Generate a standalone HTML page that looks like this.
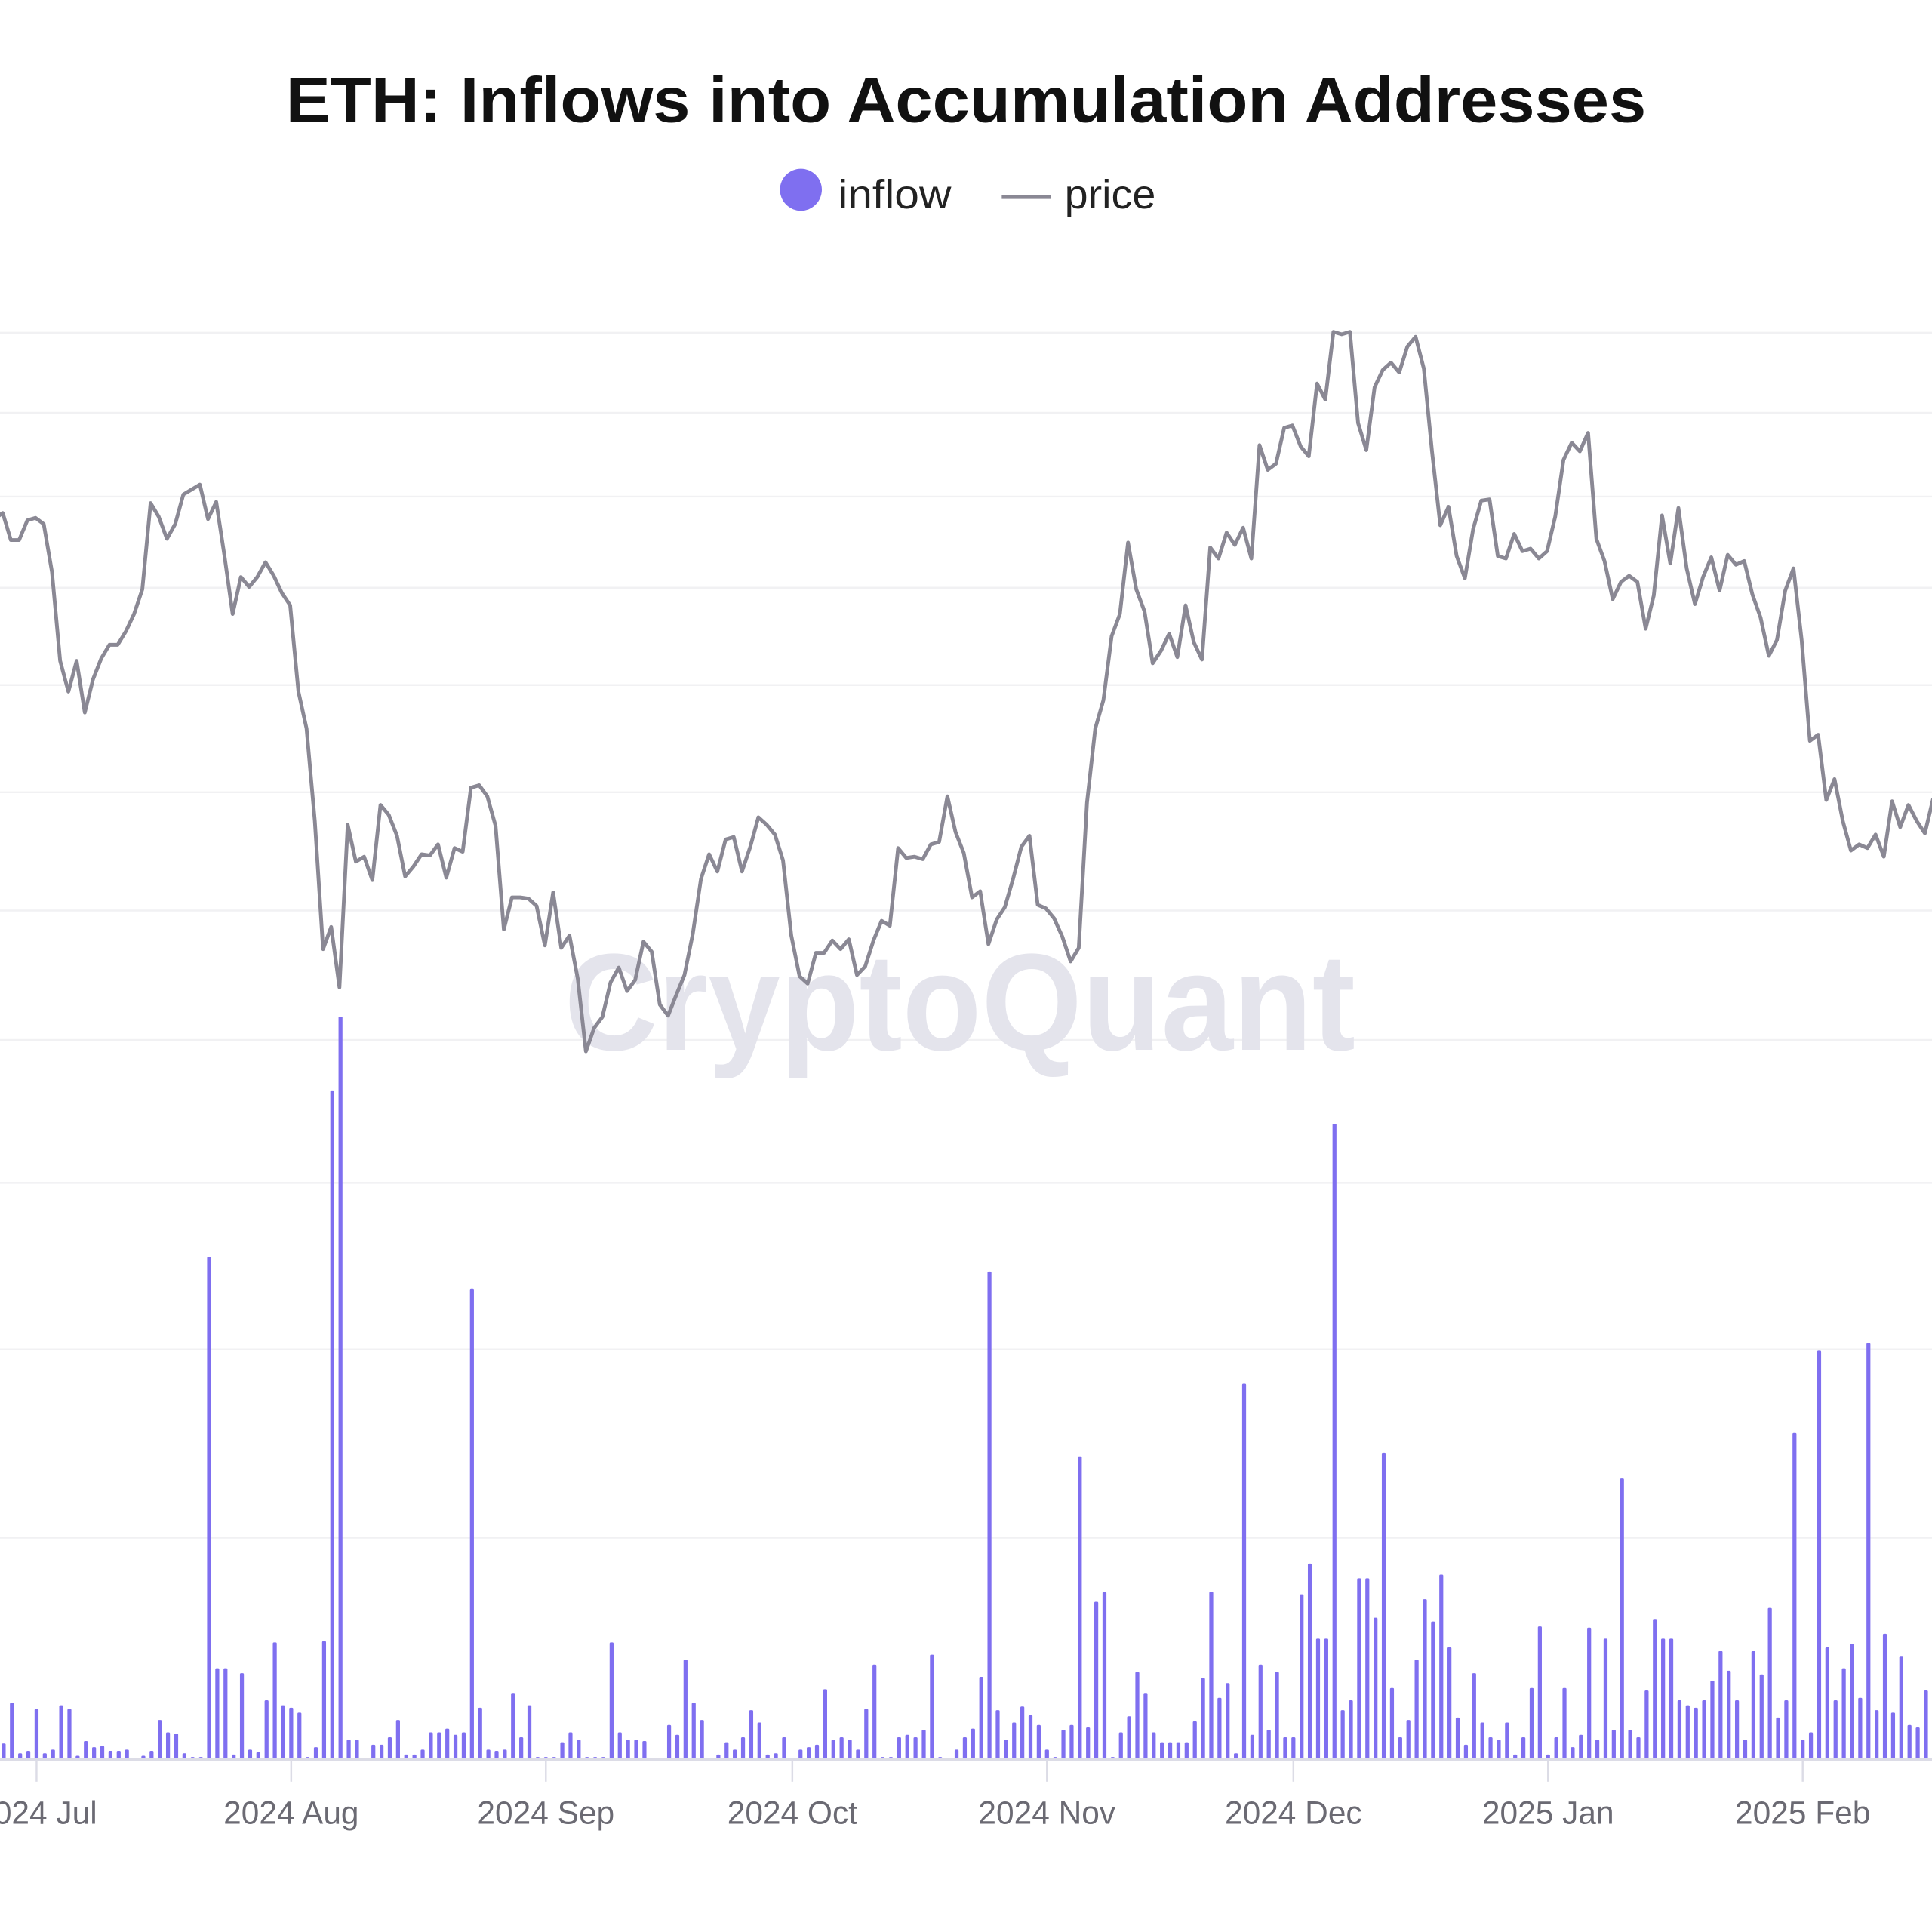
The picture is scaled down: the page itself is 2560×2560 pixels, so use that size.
<!DOCTYPE html>
<html><head><meta charset="utf-8"><style>
html,body{margin:0;padding:0;background:#fff;}
svg{display:block;}
text{font-family:"Liberation Sans","DejaVu Sans",sans-serif;}
</style></head><body>
<svg id="chart" width="2560" height="2560" viewBox="0 0 1568 1568" xmlns="http://www.w3.org/2000/svg">
<rect width="1568" height="1568" fill="#fff"/>
<text x="784" y="99" text-anchor="middle" font-size="52" font-weight="bold" fill="#111" textLength="1104" lengthAdjust="spacingAndGlyphs">ETH: Inflows into Accumulation Addresses</text>
<g>
<circle cx="650" cy="154" r="17" fill="#7f6ff0"/>
<text x="680" y="169" font-size="33" fill="#222" textLength="92" lengthAdjust="spacingAndGlyphs">inflow</text>
<line x1="813" y1="160" x2="853" y2="160" stroke="#8a8894" stroke-width="3"/>
<text x="864" y="169" font-size="33" fill="#222" textLength="74" lengthAdjust="spacingAndGlyphs">price</text>
</g>
<g id="grid"></g>
<text x="779" y="852" text-anchor="middle" font-size="112" font-weight="bold" fill="#e4e4ec" textLength="642" lengthAdjust="spacingAndGlyphs">CryptoQuant</text>
<g id="bars"></g>
<path id="priceLine" fill="none" stroke="#8a8894" stroke-width="3" stroke-linejoin="round"/>
<line x1="0" y1="1428" x2="1568" y2="1428" stroke="#dcdce6" stroke-width="2"/>
<g id="xaxis"></g>
</svg>
<script>
// day index 0 = 2024-06-27
const tickLabels = ["2024 Jul","2024 Aug","2024 Sep","2024 Oct","2024 Nov","2024 Dec","2025 Jan","2025 Feb"];
const tickDays = [4,35,66,96,127,157,188,219];
const gridValues = [270,335,403,477,556,643,739,844,960,1095,1248];
const price = [3540,3555,3489,3489,3537,3543,3528,3411,3195,3120,3195,3069,3150,3201,3234,3234,3267,3309,3369,3579,3546,3492,3528,3600,3612,3624,3540,3582,3450,3309,3399,3375,3399,3435,3402,3360,3330,3120,3030,2805,2493,2547,2400,2796,2706,2718,2661,2844,2820,2769,2670,2694,2724,2721,2748,2667,2739,2730,2886,2892,2865,2793,2541,2619,2619,2616,2598,2502,2631,2496,2526,2421,2244,2301,2328,2412,2448,2391,2418,2511,2487,2358,2331,2382,2430,2529,2664,2724,2682,2760,2766,2682,2742,2814,2796,2772,2709,2526,2427,2409,2484,2484,2514,2493,2517,2430,2451,2514,2562,2550,2739,2715,2718,2712,2748,2754,2865,2778,2727,2619,2634,2505,2565,2595,2664,2742,2769,2601,2592,2568,2523,2463,2496,2850,3030,3099,3255,3309,3483,3369,3315,3189,3219,3261,3204,3330,3240,3198,3471,3444,3507,3477,3519,3444,3720,3660,3675,3762,3768,3717,3693,3870,3831,3996,3990,3996,3774,3708,3861,3903,3921,3897,3960,3984,3906,3705,3525,3570,3450,3396,3516,3585,3588,3450,3444,3504,3462,3468,3444,3462,3546,3684,3726,3705,3750,3492,3438,3345,3387,3402,3387,3273,3354,3549,3432,3567,3420,3333,3399,3447,3366,3453,3429,3438,3357,3300,3207,3246,3366,3420,3246,3000,3015,2856,2907,2805,2733,2748,2739,2772,2718,2853,2790,2844,2805,2775,2859];
const inflowK = [13,46,5,7,41,5,8,44,41,3,15,10,11,7,7,8,0,3,7,32,22,21,5,2,2,408,
74,74,4,70,8,6,48,95,44,42,38,2,10,96,543,603,16,16,0,12,12,18,32,4,4,8,22,22,25,20,22,382,42,8,7,8,54,18,44,2,2,2,14,22,16,2,2,2,95,22,16,16,15,1,1,28,20,81,46,32,1,4,14,8,18,40,30,4,5,18,1,8,10,12,57,16,18,16,8,41,77,2,2,18,20,18,24,85,2,0,8,18,25,67,396,40,16,30,43,36,28,8,2,24,28,246,26,128,136,2,22,35,71,54,22,14,14,14,14,31,66,136,50,62,5,305,20,77,24,71,18,18,134,159,98,98,516,40,48,147,147,115,249,58,18,32,81,130,112,150,91,34,12,70,30,18,16,30,4,18,58,108,4,18,58,10,20,107,16,98,24,228,24,18,56,114,98,98,48,44,42,48,64,88,72,48,16,88,69,123,34,48,265,16,22,332,91,48,74,94,50,338,40,102,38,84,28,26,56];

const NS = "http://www.w3.org/2000/svg";
const xScale = d => 2 + d * 6.667;
const xPriceScale = d => -4.5 + d * 6.667;
const yPrice = p => 268 + (4000 - p) / 3;
const yInflow = v => 1428 - v;

const grid = document.getElementById('grid');
gridValues.forEach(gy => {
  const l = document.createElementNS(NS, 'line');
  l.setAttribute('x1', 0); l.setAttribute('x2', 1568);
  l.setAttribute('y1', gy); l.setAttribute('y2', gy);
  l.setAttribute('stroke', '#f1f1f3'); l.setAttribute('stroke-width', '1.5');
  
  
  grid.appendChild(l);
});

const bars = document.getElementById('bars');
inflowK.forEach((v, i) => {
  if (v <= 0) return;
  const r = document.createElementNS(NS, 'rect');
  const x = xScale(i) + 1;
  r.setAttribute('x', x - 1.6); r.setAttribute('width', 3.2);
  r.setAttribute('y', yInflow(v)); r.setAttribute('height', v);
  r.setAttribute('rx', 1); r.setAttribute('fill', '#7f6ff0');
  
  
  bars.appendChild(r);
});

let d = '';
price.forEach((p, i) => { d += (i ? 'L' : 'M') + xPriceScale(i).toFixed(1) + ' ' + yPrice(p).toFixed(1); });
document.getElementById('priceLine').setAttribute('d', d);

const xaxis = document.getElementById('xaxis');
tickDays.forEach((td, i) => {
  const x = xScale(td) + 1;
  const t = document.createElementNS(NS, 'line');
  t.setAttribute('x1', x); t.setAttribute('x2', x);
  t.setAttribute('y1', 1428); t.setAttribute('y2', 1446);
  t.setAttribute('stroke', '#dcdce6'); t.setAttribute('stroke-width', '1.5');
  
  
  xaxis.appendChild(t);
  const lb = document.createElementNS(NS, 'text');
  lb.setAttribute('x', x); lb.setAttribute('y', 1480);
  lb.setAttribute('text-anchor', 'middle'); lb.setAttribute('font-size', '26');
  lb.setAttribute('fill', '#6b6a73');
  lb.textContent = tickLabels[i];
  
  
  xaxis.appendChild(lb);
});
</script>
</body></html>
